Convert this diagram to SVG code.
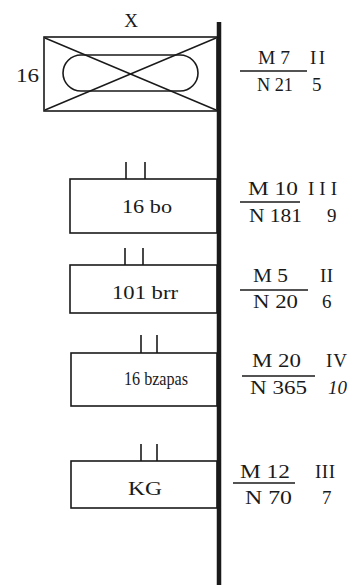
<svg xmlns="http://www.w3.org/2000/svg" width="354" height="585" viewBox="0 0 354 585">
<style>
.b{fill:none;stroke:#1a1a1a;stroke-width:1.6}
.t{font-family:"Liberation Serif","Times New Roman",serif;font-size:19px;fill:#1a1a1a}
.c{text-anchor:middle}
</style>
<rect width="354" height="585" fill="#fff"/>
<g id="connectors">
<line x1="219" y1="22" x2="219" y2="585" stroke="#1a1a1a" stroke-width="4.5"/>
</g>
<g id="nodeX">
<rect class="b" x="44" y="37" width="173" height="74"/>
<line class="b" x1="45" y1="38" x2="216" y2="110"/>
<line class="b" x1="45" y1="110" x2="216" y2="38"/>
<rect class="b" x="63" y="55" width="135" height="36" rx="18"/>
<text class="t c" x="131" y="27">X</text>
<text class="t" x="16" y="82" textLength="23" lengthAdjust="spacingAndGlyphs">16</text>
<line class="b" x1="240" y1="71" x2="307" y2="71"/>
<text class="t" x="258" y="64" textLength="32" lengthAdjust="spacingAndGlyphs">M 7</text>
<text class="t" x="310" y="64" textLength="15">II</text>
<text class="t" x="257" y="91" textLength="36" lengthAdjust="spacingAndGlyphs">N 21</text>
<text class="t" x="312" y="91">5</text>
</g>
<g id="node16bo">
<rect class="b" x="70" y="179" width="147" height="54"/>
<line class="b" x1="126" y1="162" x2="126" y2="179"/>
<line class="b" x1="145" y1="162" x2="145" y2="179"/>
<text class="t" x="122" y="213" textLength="50" lengthAdjust="spacingAndGlyphs">16 bo</text>
<line class="b" x1="240" y1="202" x2="300" y2="202"/>
<text class="t" x="248" y="195" textLength="50" lengthAdjust="spacingAndGlyphs">M 10</text>
<text class="t" x="308" y="195" textLength="29">III</text>
<text class="t" x="249" y="222" textLength="53" lengthAdjust="spacingAndGlyphs">N 181</text>
<text class="t" x="327" y="222">9</text>
</g>
<g id="node101brr">
<rect class="b" x="70" y="265" width="147" height="48"/>
<line class="b" x1="125" y1="248" x2="125" y2="265"/>
<line class="b" x1="143" y1="248" x2="143" y2="265"/>
<text class="t" x="112" y="299" textLength="66" lengthAdjust="spacingAndGlyphs">101 brr</text>
<line class="b" x1="240" y1="290" x2="308" y2="290"/>
<text class="t" x="253" y="282" textLength="35" lengthAdjust="spacingAndGlyphs">M 5</text>
<text class="t" x="320" y="282" textLength="13">II</text>
<text class="t" x="253" y="308" textLength="45" lengthAdjust="spacingAndGlyphs">N 20</text>
<text class="t" x="322" y="308">6</text>
</g>
<g id="node16bzapas">
<rect class="b" x="71" y="353" width="146" height="53"/>
<line class="b" x1="141" y1="335" x2="141" y2="353"/>
<line class="b" x1="157" y1="335" x2="157" y2="353"/>
<text class="t" x="124" y="385" style="font-size:18.5px" textLength="64" lengthAdjust="spacingAndGlyphs">16 bzapas</text>
<line class="b" x1="242" y1="376" x2="315" y2="376"/>
<text class="t" x="252" y="367" textLength="49" lengthAdjust="spacingAndGlyphs">M 20</text>
<text class="t" x="326" y="367" textLength="21">IV</text>
<text class="t" x="250" y="394" textLength="57" lengthAdjust="spacingAndGlyphs">N 365</text>
<text class="t" x="328" y="394" font-style="italic">10</text>
</g>
<g id="nodeKG">
<rect class="b" x="71" y="461" width="146" height="47"/>
<line class="b" x1="141" y1="444" x2="141" y2="461"/>
<line class="b" x1="157" y1="444" x2="157" y2="461"/>
<text class="t" x="128" y="495" textLength="34" lengthAdjust="spacingAndGlyphs">KG</text>
<line class="b" x1="233" y1="483" x2="295" y2="483"/>
<text class="t" x="240" y="478" textLength="50" lengthAdjust="spacingAndGlyphs">M 12</text>
<text class="t" x="315" y="478" textLength="20">III</text>
<text class="t" x="245" y="504" textLength="47" lengthAdjust="spacingAndGlyphs">N 70</text>
<text class="t" x="322" y="504">7</text>
</g>
</svg>
